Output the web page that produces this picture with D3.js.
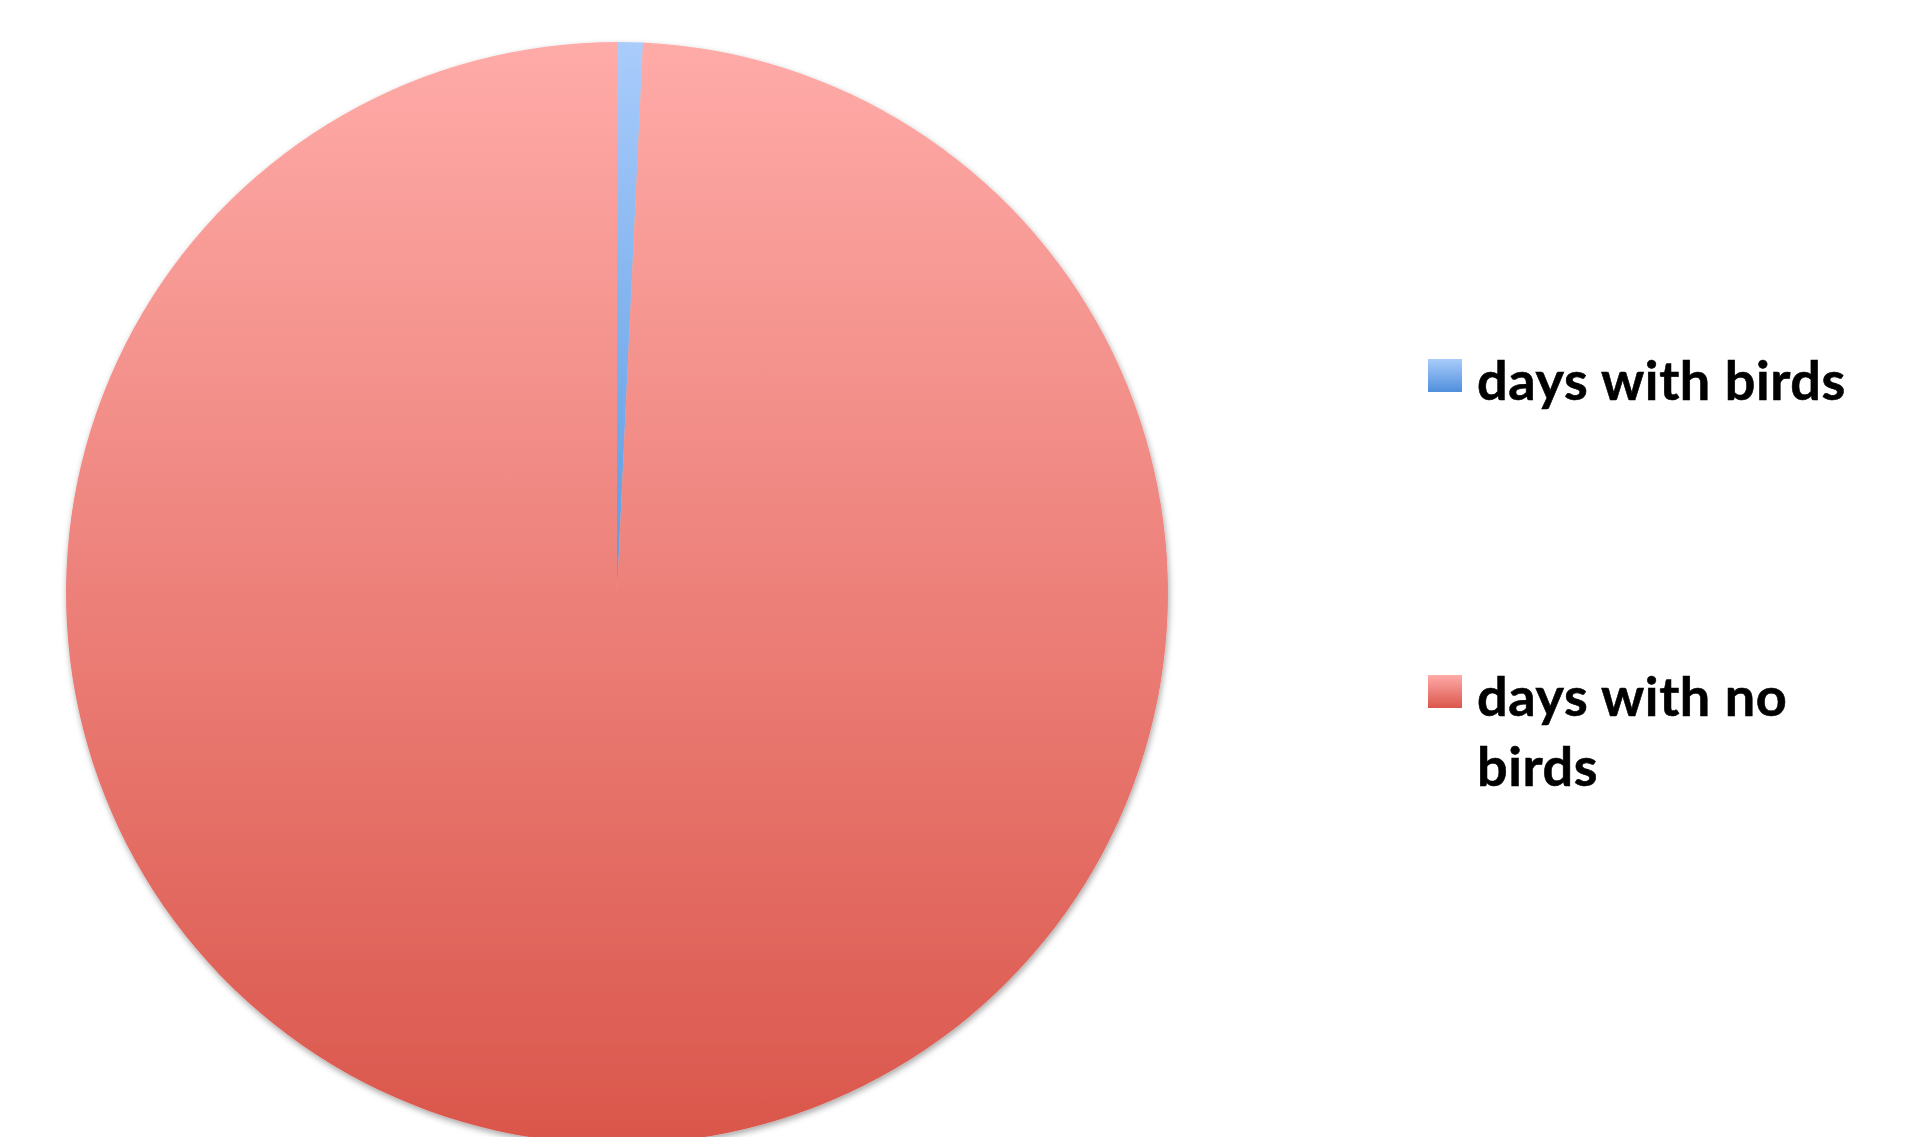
<!DOCTYPE html>
<html>
<head>
<meta charset="utf-8">
<script src="https://cdn.jsdelivr.net/npm/d3@7"></script>
<style>
  html, body { margin: 0; padding: 0; background: #fff; overflow: hidden; }
  svg { display: block; }
</style>
</head>
<body>
<div id="pieChart"></div>
<script>
// data
const categories = ['days with birds', 'days with no birds'];
const dayCounts = [1, 132];
const legendLines = [['days with birds'], ['days with no', 'birds']];
const topColors = ['#a9ccfb', '#ffaba8'];
const bottomColors = ['#4f8fdc', '#da564b'];

const drawPie = () => {
  d3.select('#pieChart > *').remove()

  const svgWidth = 1910, svgHeight = 1137;
  const svg = d3.select('#pieChart')
    .append('svg')
    .attr('width', svgWidth)
    .attr('height', svgHeight)

  const cx = 617, cy = 593, radius = 551;

  const defs = svg.append('defs')

  // soft grey shadow round the pie
  const shadow = defs.append('filter')
    .attr('id', 'pieShadow')
    .attr('x', '-5%').attr('y', '-5%')
    .attr('width', '110%').attr('height', '110%')
  shadow.append('feDropShadow')
    .attr('dx', 1).attr('dy', 3)
    .attr('stdDeviation', 3)
    .attr('flood-color', '#000')
    .attr('flood-opacity', 0.35)

  // legend swatch gradients
  categories.forEach((c, i) => {
    const grad = defs.append('linearGradient')
      .attr('id', 'grad' + i)
      .attr('x1', 0).attr('y1', 0).attr('x2', 0).attr('y2', 1)
    grad.append('stop').attr('offset', '0%').attr('stop-color', topColors[i])
    grad.append('stop').attr('offset', '100%').attr('stop-color', bottomColors[i])
  })

  // big slice: gradient over the whole disc, in the group's coordinates
  const discGrad = defs.append('linearGradient')
    .attr('id', 'discGrad')
    .attr('gradientUnits', 'userSpaceOnUse')
    .attr('x1', 0).attr('y1', -radius).attr('x2', 0).attr('y2', radius)
  discGrad.append('stop').attr('offset', '0%').attr('stop-color', topColors[1])
  discGrad.append('stop').attr('offset', '100%').attr('stop-color', bottomColors[1])

  // thin slice: from rim to centre
  const sliceGrad = defs.append('linearGradient')
    .attr('id', 'sliceGrad')
    .attr('gradientUnits', 'userSpaceOnUse')
    .attr('x1', 0).attr('y1', -radius).attr('x2', 0).attr('y2', 0)
  sliceGrad.append('stop').attr('offset', '0%').attr('stop-color', topColors[0])
  sliceGrad.append('stop').attr('offset', '100%').attr('stop-color', '#5a9ae2')

  const pie = d3.pie().sort(null).value(d => d)
  const arc = d3.arc().innerRadius(0).outerRadius(radius)

  const g = svg.append('g')
    .attr('transform', 'translate(' + cx + ',' + cy + ')')
    .attr('filter', 'url(#pieShadow)')

  g.selectAll('path')
    .data(pie(dayCounts))
    .enter()
    .append('path')
    .attr('d', arc)
    .attr('fill', (d, i) => i === 0 ? 'url(#sliceGrad)' : 'url(#discGrad)')
    .attr('stroke', 'none')

  // legend
  const legendX = 1428, boxSize = 34;
  const legendTops = [359, 675];
  const fontSize = 54, lineGap = 70;

  const legend = svg.append('g').attr('class', 'legend')
  categories.forEach((c, i) => {
    legend.append('rect')
      .attr('x', legendX)
      .attr('y', legendTops[i])
      .attr('width', boxSize)
      .attr('height', boxSize - 1)
      .attr('fill', 'url(#grad' + i + ')')

    const t = legend.append('text')
      .attr('x', legendX + 49)
      .attr('y', legendTops[i] + 41)
      .attr('font-family', 'Lato, "Open Sans", sans-serif')
      .attr('font-weight', 'bold')
      .attr('font-size', fontSize)
      .attr('letter-spacing', 0.6)
      .attr('fill', '#000')
      .attr('stroke', '#000')
      .attr('stroke-width', 0.6)
    legendLines[i].forEach((line, j) => {
      t.append('tspan')
        .attr('x', legendX + 49)
        .attr('dy', j === 0 ? 0 : lineGap)
        .text(line)
    })
  })
}

drawPie()
</script>
</body>
</html>
